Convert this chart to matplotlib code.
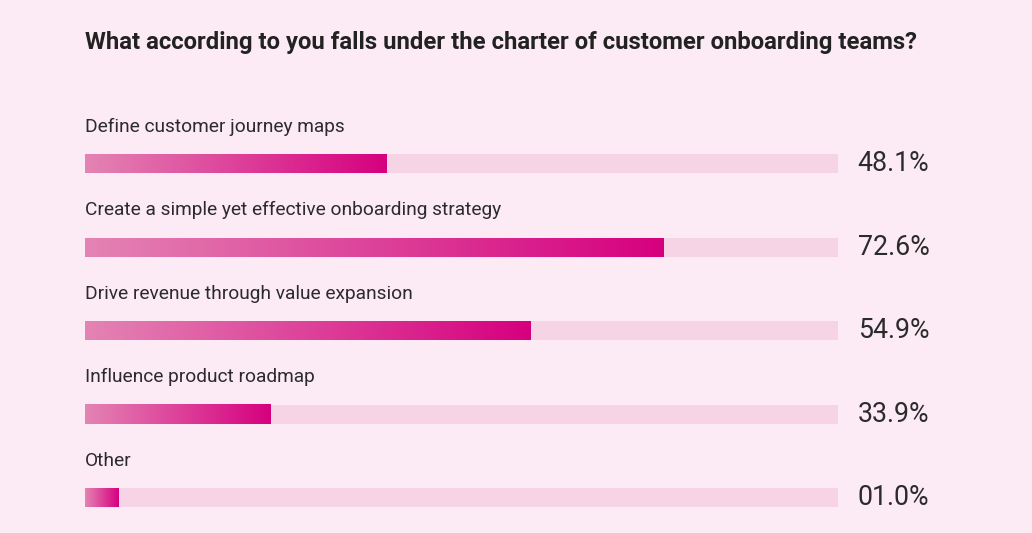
import numpy as np
import matplotlib
matplotlib.use("Agg")
import matplotlib.pyplot as plt
from matplotlib.colors import LinearSegmentedColormap

title = "What according to you falls under the charter of customer onboarding teams?"
categories = [
    "Define customer journey maps",
    "Create a simple yet effective onboarding strategy",
    "Drive revenue through value expansion",
    "Influence product roadmap",
    "Other",
]
value_labels = ["48.1%", "72.6%", "54.9%", "33.9%", "01.0%"]
# bar fill as drawn in the original (share of the track, %), which is not
# scaled to the printed percentages
bar_lengths = [40.1, 76.8, 59.2, 24.6, 4.4]


def main():
    plt.rcParams['font.family'] = ['Roboto', 'DejaVu Sans']
    bg = "#fcebf4"
    fig = plt.figure(figsize=(10.32, 5.33), dpi=100, facecolor=bg)

    fig.text(85 / 1032, 1 - 42 / 533, title, fontsize=17.2, fontweight='bold',
             color="#222222", ha='left', va='center')

    # axes spans the track horizontally (x=85..838 px), full height
    ax = fig.add_axes([85 / 1032, 0, (838 - 85) / 1032, 1])
    ax.patch.set_alpha(0)
    px = 83.6
    ax.axis('off')

    h = 19 / px
    cmap = LinearSegmentedColormap.from_list("pink", ["#e484b4", "#d6007f"])
    grad = np.linspace(0, 1, 256).reshape(1, -1)

    for i, (cat, lab, length) in enumerate(zip(categories, value_labels, bar_lengths)):
        ax.barh(i, 100, height=h, color="#f6d3e5", zorder=1)
        ax.imshow(grad, cmap=cmap, aspect='auto', zorder=2,
                  extent=(0, length, i + h / 2, i - h / 2))
        ax.text(0, i - 37 / px, cat, fontsize=13.8, color="#2b2b2b",
                ha='left', va='center')
        ax.text(102.6, i, lab, fontsize=19.3, color="#2b2b2b",
                ha='left', va='center', clip_on=False)

    ax.set_xlim(0, 100)
    ax.set_ylim((533 - 163.5) / px, -163.5 / px)

    fig.savefig("out.png", dpi=100, facecolor=bg)


if __name__ == "__main__":
    main()
